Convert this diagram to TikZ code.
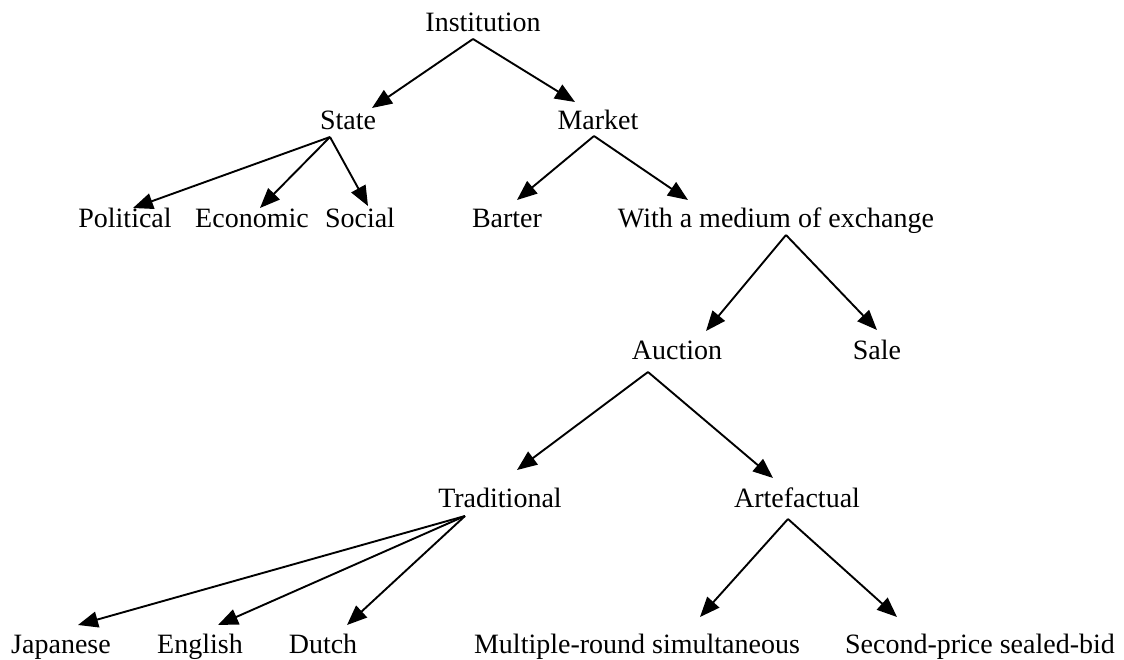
\documentclass[tikz,border=0pt]{standalone}
\usepackage{fontspec}
\setmainfont{Liberation Serif}
\usetikzlibrary{arrows.meta}
\tikzset{
  lbl/.style={anchor=base, inner sep=0pt, font=\fontsize{28}{32}\selectfont},
  link/.style={line width=1.9pt, -{Triangle[length=20pt,width=16pt]}}
}
\begin{document}
\begin{tikzpicture}[x=1pt,y=-1pt]
\useasboundingbox[fill=white] (0,0) rectangle (1124,660);
% nodes
\node[lbl] (inst) at (483,32) {Institution};
\node[lbl] (state) at (348,130) {State};
\node[lbl] (market) at (598,130) {Market};
\node[lbl] (pol) at (125,228) {Political};
\node[lbl] (eco) at (252,228) {Economic};
\node[lbl] (soc) at (360,228) {Social};
\node[lbl] (bar) at (507,228) {Barter};
\node[lbl] (with) at (776,228) {With a medium of exchange};
\node[lbl] (auc) at (677,359) {Auction};
\node[lbl] (sale) at (877,359) {Sale};
\node[lbl] (trad) at (500,507) {Traditional};
\node[lbl] (art) at (797,507) {Artefactual};
\node[lbl] (jap) at (61,653) {Japanese};
\node[lbl] (eng) at (200,653) {English};
\node[lbl] (dut) at (323,653) {Dutch};
\node[lbl] (mul) at (637,653) {Multiple-round simultaneous};
\node[lbl] (sec) at (980,653) {Second-price sealed-bid};
% connector end points
\coordinate (inst-o) at (473,39);
\coordinate (state-i) at (372,108);
\coordinate (market-i) at (575,102);
\coordinate (state-o) at (330,137);
\coordinate (pol-i) at (133,208);
\coordinate (eco-i) at (260,208);
\coordinate (soc-i) at (368,206);
\coordinate (market-o) at (594,136);
\coordinate (bar-i) at (517,200);
\coordinate (with-i) at (688,200);
\coordinate (with-o) at (786,235);
\coordinate (auc-i) at (706,331);
\coordinate (sale-i) at (877,330);
\coordinate (auc-o) at (648,372);
\coordinate (trad-i) at (517,470);
\coordinate (art-i) at (773,478);
\coordinate (trad-o) at (465,516);
\coordinate (jap-i) at (78,625);
\coordinate (eng-i) at (218,625);
\coordinate (dut-i) at (347,625);
\coordinate (art-o) at (788,519);
\coordinate (mul-i) at (700,617);
\coordinate (sec-i) at (897,617);
% connectors
\draw[link] (inst-o) -- (state-i);
\draw[link] (inst-o) -- (market-i);
\draw[link] (state-o) -- (pol-i);
\draw[link] (state-o) -- (eco-i);
\draw[link] (state-o) -- (soc-i);
\draw[link] (market-o) -- (bar-i);
\draw[link] (market-o) -- (with-i);
\draw[link] (with-o) -- (auc-i);
\draw[link] (with-o) -- (sale-i);
\draw[link] (auc-o) -- (trad-i);
\draw[link] (auc-o) -- (art-i);
\draw[link] (trad-o) -- (jap-i);
\draw[link] (trad-o) -- (eng-i);
\draw[link] (trad-o) -- (dut-i);
\draw[link] (art-o) -- (mul-i);
\draw[link] (art-o) -- (sec-i);
\end{tikzpicture}
\end{document}
